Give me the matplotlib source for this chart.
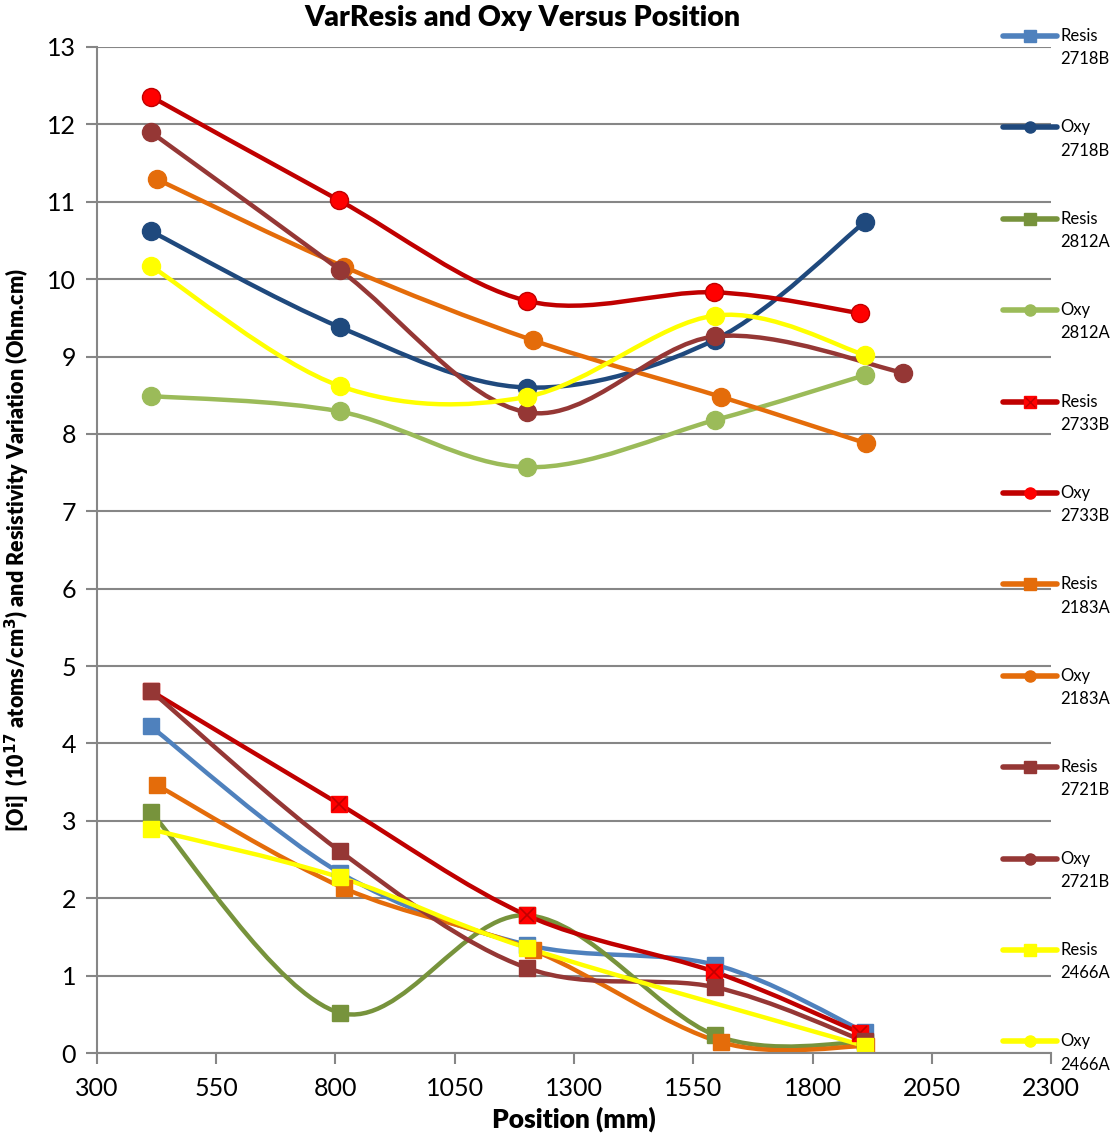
# -*- coding:utf-8 -*-
import matplotlib
matplotlib.use('Agg')
import matplotlib.pyplot as plt
from matplotlib.path import Path
from matplotlib.patches import PathPatch
from matplotlib.lines import Line2D

plt.rcParams['font.family'] = ['Lato', 'DejaVu Sans']

# data
pos_a = [413, 809, 1201, 1596, 1910]
pos_orange = [426, 818, 1214, 1608, 1912]
pos_2721 = [413, 809, 1201, 1596, 1990]
pos_2733 = [413, 807, 1201, 1594, 1900]
pos_2466r = [413, 809, 1201, 1910]

resis_2718b = [4.22, 2.33, 1.40, 1.14, 0.27]
oxy_2718b = [10.62, 9.38, 8.60, 9.22, 10.74]
resis_2812a = [3.11, 0.52, 1.78, 0.23, 0.14]
oxy_2812a = [8.49, 8.29, 7.57, 8.18, 8.76]
resis_2733b = [4.68, 3.22, 1.78, 1.05, 0.26]
oxy_2733b = [12.36, 11.02, 9.72, 9.83, 9.56]
resis_2183a = [3.46, 2.13, 1.33, 0.14, 0.09]
oxy_2183a = [11.29, 10.16, 9.21, 8.48, 7.88]
resis_2721b = [4.68, 2.61, 1.10, 0.85, 0.15]
oxy_2721b = [11.90, 10.12, 8.28, 9.26, 8.79]
resis_2466a = [2.89, 2.27, 1.36, 0.09]
oxy_2466a = [10.17, 8.62, 8.48, 9.53, 9.02]

# (label, x, y, line colour, marker colour, marker)
series = [
    ('Resis\n2718B', pos_a, resis_2718b, '#4F81BD', '#4F81BD', 's'),
    ('Oxy\n2718B', pos_a, oxy_2718b, '#1F497D', '#1F497D', 'o'),
    ('Resis\n2812A', pos_a, resis_2812a, '#77933C', '#77933C', 's'),
    ('Oxy\n2812A', pos_a, oxy_2812a, '#9BBB59', '#9BBB59', 'o'),
    ('Resis\n2733B', pos_2733, resis_2733b, '#C00000', '#FF0000', 'sx'),
    ('Oxy\n2733B', pos_2733, oxy_2733b, '#C00000', '#FF0000', 'o'),
    ('Resis\n2183A', pos_orange, resis_2183a, '#E46C0A', '#E46C0A', 's'),
    ('Oxy\n2183A', pos_orange, oxy_2183a, '#E46C0A', '#E46C0A', 'o'),
    ('Resis\n2721B', pos_a, resis_2721b, '#953735', '#953735', 's'),
    ('Oxy\n2721B', pos_2721, oxy_2721b, '#953735', '#953735', 'o'),
    ('Resis\n2466A', pos_2466r, resis_2466a, '#FFFF00', '#FFFF00', 's'),
    ('Oxy\n2466A', pos_a, oxy_2466a, '#FFFF00', '#FFFF00', 'o'),
]


def smooth_path(xs, ys):
    # Excel style smoothed line: cubic bezier segments, tension 1/6
    pts = list(zip(xs, ys))
    verts = [pts[0]]
    codes = [Path.MOVETO]
    n = len(pts)
    for i in range(n - 1):
        p0 = pts[i - 1] if i > 0 else pts[i]
        p1 = pts[i]
        p2 = pts[i + 1]
        p3 = pts[i + 2] if i + 2 < n else pts[i + 1]
        c1 = (p1[0] + (p2[0] - p0[0]) / 6.0, p1[1] + (p2[1] - p0[1]) / 6.0)
        c2 = (p2[0] - (p3[0] - p1[0]) / 6.0, p2[1] - (p3[1] - p1[1]) / 6.0)
        verts += [c1, c2, p2]
        codes += [Path.CURVE4] * 3
    return Path(verts, codes)


fig = plt.figure(figsize=(11.16, 11.35), dpi=100)
ax = fig.add_axes([0.0869, 0.0722, 0.8549, 0.8864])

for label, xs, ys, lc, mc, mk in series:
    ax.add_patch(PathPatch(smooth_path(xs, ys), fill=False, edgecolor=lc,
                           linewidth=3.2, capstyle='round', joinstyle='round'))
    if mk == 'sx':
        ax.plot(xs, ys, linestyle='none', marker='s', markersize=12,
                color=mc, markeredgecolor=mc)
        ax.plot(xs, ys, linestyle='none', marker='x', markersize=10,
                color='#C00000', markeredgewidth=1.2)
    else:
        edge = '#C00000' if mc == '#FF0000' else mc
        ax.plot(xs, ys, linestyle='none', marker=mk,
                markersize=13 if mk == 'o' else 12,
                color=mc, markeredgecolor=edge, markeredgewidth=1)

ax.set_xlim(300, 2300)
ax.set_ylim(0, 13)
ax.set_xticks(range(300, 2301, 250))
ax.set_yticks(range(0, 14))

ax.yaxis.grid(True, color='#868686', linewidth=1.5)
ax.set_axisbelow(True)
for s in ['top', 'right']:
    ax.spines[s].set_visible(False)
for s in ['left', 'bottom']:
    ax.spines[s].set_color('#868686')
    ax.spines[s].set_linewidth(1.5)
ax.tick_params(axis='both', direction='out', length=8, width=1.5,
               color='#868686', labelsize=18, pad=7)
ax.tick_params(axis='x', pad=9)

fig.text(522 / 1116, 1 - 18 / 1135, 'VarResis and Oxy Versus Position',
         fontsize=20.5, fontweight='heavy', ha='center', va='center')
ax.set_xlabel('Position (mm)', fontsize=19, fontweight='heavy', labelpad=5)
ax.set_ylabel('[Oi]  (10$^{\\mathbf{17}}$ atoms/cm$^{\\mathbf{3}}$) and Resistivity Variation (Ohm.cm)',
              fontsize=15.5, fontweight='heavy', labelpad=11)

# legend, one entry per series down the right side
W, H = 1116.0, 1135.0
for i, (label, xs, ys, lc, mc, mk) in enumerate(series):
    yy = 1 - (36 + i * 91.4) / H
    fig.add_artist(Line2D([1003 / W, 1057 / W], [yy, yy], color=lc,
                          linewidth=4, solid_capstyle='round'))
    m = 's' if mk == 'sx' else mk
    fig.add_artist(Line2D([1030 / W], [yy], marker=m, markersize=8,
                          color=mc, markeredgecolor=mc, linestyle='none'))
    if mk == 'sx':
        fig.add_artist(Line2D([1030 / W], [yy], marker='x', markersize=7,
                              color='#C00000', linestyle='none'))
    fig.text(1060 / W, yy + 8 / H, label, fontsize=12, va='top', ha='left',
             linespacing=1.55)

fig.savefig('out.png', dpi=100)
